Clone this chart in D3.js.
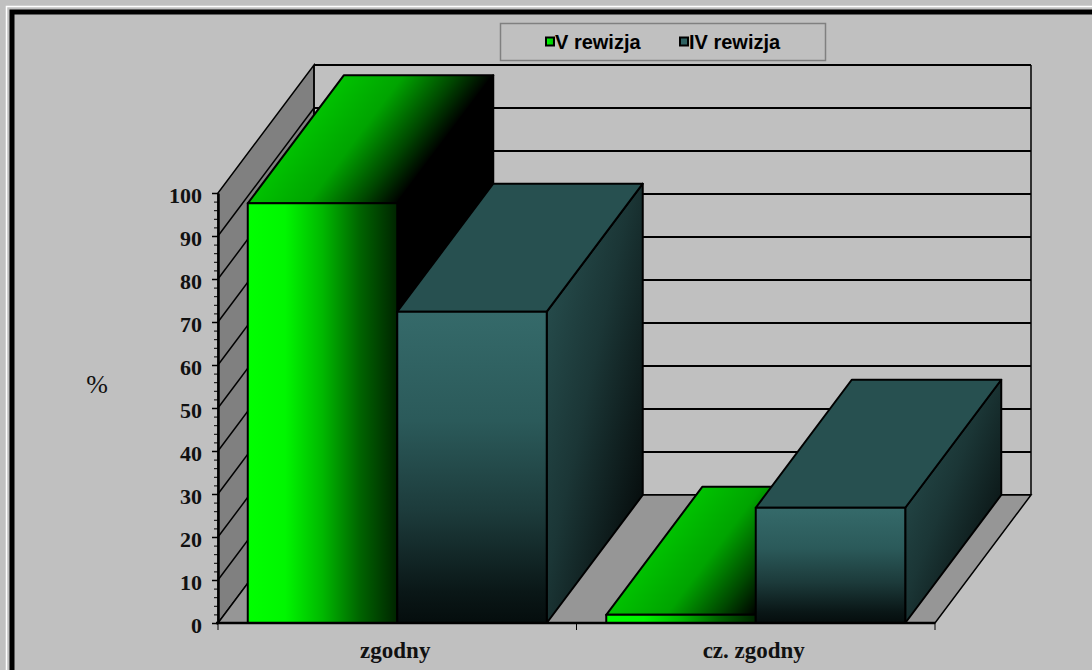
<!DOCTYPE html>
<html>
<head>
<meta charset="utf-8">
<script src="https://cdn.jsdelivr.net/npm/d3@7"></script>
<style>
  html, body { margin: 0; padding: 0; background: #c0c0c0; }
  svg { display: block; }
</style>
</head>
<body>
<svg id="chart" width="1092" height="670"></svg>
<script>
// Chart data
const categories = ["zgodny", "cz. zgodny"];
const series = ["V rewizja", "IV rewizja"];
const valuesV = [97.6, 1.9];
const valuesIV = [72.4, 26.8];
const majorTicks = [0, 10, 20, 30, 40, 50, 60, 70, 80, 90, 100];
const minorTicks = d3.range(0, 101, 2);
const yAxisTitle = "%";

const W = 1092, H = 670;
const svg = d3.select("#chart");

// plot box (front plane) and 3-D depth offset
const plot = { left: 218, right: 935, top: 193, bottom: 623 };
const depth = { dx: 96, dy: -128 };

const x = d3.scaleBand().domain(categories).range([plot.left, plot.right]).paddingInner(0).paddingOuter(0);
const gapFrac = 0.083;
const xs = d3.scaleBand().domain(series)
  .range([x.bandwidth() * gapFrac, x.bandwidth() * (1 - gapFrac)]).padding(0);
const y = d3.scaleLinear().domain([0, 100]).range([plot.bottom, plot.top]);

const rows = [];
categories.forEach((c, i) => {
  rows.push({ cat: c, ser: series[0], value: valuesV[i] });
  rows.push({ cat: c, ser: series[1], value: valuesIV[i] });
});

const defs = svg.append("defs");
function lin(id, stops, attrs) {
  const g = defs.append("linearGradient").attr("id", id);
  Object.entries(attrs).forEach(([k, v]) => g.attr(k, v));
  stops.forEach(([o, c]) => g.append("stop").attr("offset", o).attr("stop-color", c));
  return g;
}
lin("vFront", [[0, "#00ff00"], [0.25, "#00f600"], [0.5, "#00b800"], [0.75, "#006400"], [1, "#002400"]],
  { x1: 0, y1: 0, x2: 1, y2: 0 });
lin("ivFront", [[0, "#356a6a"], [0.35, "#2b5a5a"], [0.65, "#1c3a3a"], [0.9, "#0a1717"], [1, "#050d0d"]],
  { x1: 0, y1: 0, x2: 0, y2: 1 });
lin("ivSide", [[0, "#2a5454"], [0.45, "#1b3636"], [1, "#000000"]],
  { x1: 0, y1: 0, x2: 1, y2: 1 });
lin("legV", [[0, "#00ff00"], [1, "#00c000"]], { x1: 0, y1: 0, x2: 1, y2: 0 });

// background
svg.append("rect").attr("width", W).attr("height", H).attr("fill", "#c0c0c0");

// outer frame (runs off the right and bottom of the view)
svg.append("rect").attr("x", 6.5).attr("y", 6.5).attr("width", 1200).attr("height", 1000)
  .attr("fill", "none").attr("stroke", "#ffffff").attr("stroke-width", 1.5);
svg.append("rect").attr("x", 12).attr("y", 12).attr("width", 1200).attr("height", 1000)
  .attr("fill", "none").attr("stroke", "#000000").attr("stroke-width", 5);

const P = (px, py) => [px, py];
const off = ([px, py]) => [px + depth.dx, py + depth.dy];
const path = pts => "M" + pts.map(p => p.join(",")).join("L") + "Z";

// side wall
const wall = svg.append("g");
wall.append("path")
  .attr("d", path([P(plot.left, plot.bottom), P(plot.left, plot.top), off(P(plot.left, plot.top)), off(P(plot.left, plot.bottom))]))
  .attr("fill", "#808080").attr("stroke", "#000").attr("stroke-width", 1.5);
// side wall gridlines
wall.selectAll("line.sg").data(majorTicks.filter(t => t > 0 && t < 100)).join("line")
  .attr("x1", plot.left).attr("y1", d => y(d))
  .attr("x2", plot.left + depth.dx).attr("y2", d => y(d) + depth.dy)
  .attr("stroke", "#000").attr("stroke-width", 1.5);

// back wall gridlines
wall.selectAll("line.bg").data(majorTicks).join("line")
  .attr("x1", plot.left + depth.dx).attr("x2", plot.right + depth.dx)
  .attr("y1", d => y(d) + depth.dy).attr("y2", d => y(d) + depth.dy)
  .attr("stroke", "#000").attr("stroke-width", 2);
wall.append("line")
  .attr("x1", plot.left + depth.dx).attr("x2", plot.left + depth.dx)
  .attr("y1", y(100) + depth.dy).attr("y2", y(0) + depth.dy)
  .attr("stroke", "#000").attr("stroke-width", 1.5);
wall.append("line")
  .attr("x1", plot.right + depth.dx).attr("x2", plot.right + depth.dx)
  .attr("y1", y(100) + depth.dy).attr("y2", y(0) + depth.dy)
  .attr("stroke", "#000").attr("stroke-width", 1.5);

// floor
wall.append("path")
  .attr("d", path([P(plot.left, plot.bottom), P(plot.right, plot.bottom), off(P(plot.right, plot.bottom)), off(P(plot.left, plot.bottom))]))
  .attr("fill", "#969696").attr("stroke", "#000").attr("stroke-width", 1.5);

// bars (left to right so nearer faces overlap)
const bars = svg.append("g");
rows.forEach((r, i) => {
  const x0 = x(r.cat) + xs(r.ser), x1 = x0 + xs.bandwidth();
  const yt = y(r.value), yb = y(0);
  const isV = r.ser === series[0];
  const g = bars.append("g");
  // top face gradient runs across the face, isolines parallel to its slanted edge
  let topFill = "#275050";
  if (isV) {
    const ux = 0.8, uy = 0.6, len = (x1 - x0) * ux;
    const gid = "vTop" + i;
    lin(gid, [[0, "#00c200"], [0.4, "#00a400"], [0.75, "#004800"], [1, "#000000"]],
      { gradientUnits: "userSpaceOnUse", x1: x0, y1: yt, x2: x0 + len * ux, y2: yt + len * uy });
    topFill = `url(#${gid})`;
  }
  const stroke = { stroke: "#000", "stroke-width": 2, "stroke-linejoin": "round" };
  const side = g.append("path")
    .attr("d", path([P(x1, yb), P(x1, yt), off(P(x1, yt)), off(P(x1, yb))]))
    .attr("fill", isV ? "#000000" : "url(#ivSide)");
  const top = g.append("path")
    .attr("d", path([P(x0, yt), P(x1, yt), off(P(x1, yt)), off(P(x0, yt))]))
    .attr("fill", topFill);
  const front = g.append("rect")
    .attr("x", x0).attr("y", yt).attr("width", x1 - x0).attr("height", yb - yt)
    .attr("fill", isV ? "url(#vFront)" : "url(#ivFront)");
  [side, top, front].forEach(s => Object.entries(stroke).forEach(([k, v]) => s.attr(k, v)));
});

// y axis
const yAxisG = svg.append("g").attr("transform", `translate(${plot.left},0)`);
yAxisG.call(d3.axisLeft(y).tickValues(minorTicks).tickSize(4).tickFormat(""))
  .call(g => g.select(".domain").remove())
  .call(g => g.selectAll("line").attr("stroke", "#000").attr("stroke-width", 1));
const yMajor = svg.append("g").attr("transform", `translate(${plot.left},0)`);
yMajor.call(d3.axisLeft(y).tickValues(majorTicks).tickSize(6).tickSizeOuter(0).tickPadding(10))
  .call(g => g.select(".domain").attr("stroke", "#000").attr("stroke-width", 2.5))
  .call(g => g.selectAll("line").attr("stroke", "#000").attr("stroke-width", 1.5))
  .call(g => g.selectAll("text")
    .attr("font-family", "'Liberation Serif', serif").attr("font-weight", "bold")
    .attr("font-size", 22).attr("fill", "#111").attr("dy", "0.42em"));

// x axis
const xAxisG = svg.append("g").attr("transform", `translate(0,${plot.bottom})`);
xAxisG.append("line").attr("x1", plot.left - 2).attr("x2", plot.right)
  .attr("stroke", "#000").attr("stroke-width", 2.5);
xAxisG.selectAll("line.tk").data([plot.left, plot.left + x.bandwidth(), plot.right]).join("line")
  .attr("x1", d => d).attr("x2", d => d).attr("y1", 0).attr("y2", 7)
  .attr("stroke", "#000").attr("stroke-width", 1);
xAxisG.selectAll("text").data(categories).join("text")
  .attr("x", d => x(d) + x.bandwidth() / 2 - 2).attr("y", 35)
  .attr("text-anchor", "middle")
  .attr("font-family", "'Liberation Serif', serif").attr("font-weight", "bold")
  .attr("font-size", 23).attr("fill", "#111").text(d => d);

// y axis title
svg.append("text").attr("x", 97).attr("y", 393).attr("text-anchor", "middle")
  .attr("font-family", "'Liberation Serif', serif").attr("font-size", 26).attr("fill", "#111")
  .text(yAxisTitle);

// legend
const leg = svg.append("g");
leg.append("rect").attr("x", 500.5).attr("y", 23.5).attr("width", 325).attr("height", 37)
  .attr("fill", "#c0c0c0").attr("stroke", "#808080").attr("stroke-width", 1.5);
const legX = [545, 679];
series.forEach((s, i) => {
  leg.append("rect").attr("x", legX[i] + 1).attr("y", 37.5).attr("width", 8).attr("height", 8)
    .attr("fill", i === 0 ? "url(#legV)" : "#2f6262").attr("stroke", "#000").attr("stroke-width", 2);
  leg.append("text").attr("x", legX[i] + 10).attr("y", 49)
    .attr("font-family", "'Liberation Sans', Arial, sans-serif").attr("font-weight", "bold")
    .attr("font-size", 20).attr("fill", "#000").text(s);
});
</script>
</body>
</html>
